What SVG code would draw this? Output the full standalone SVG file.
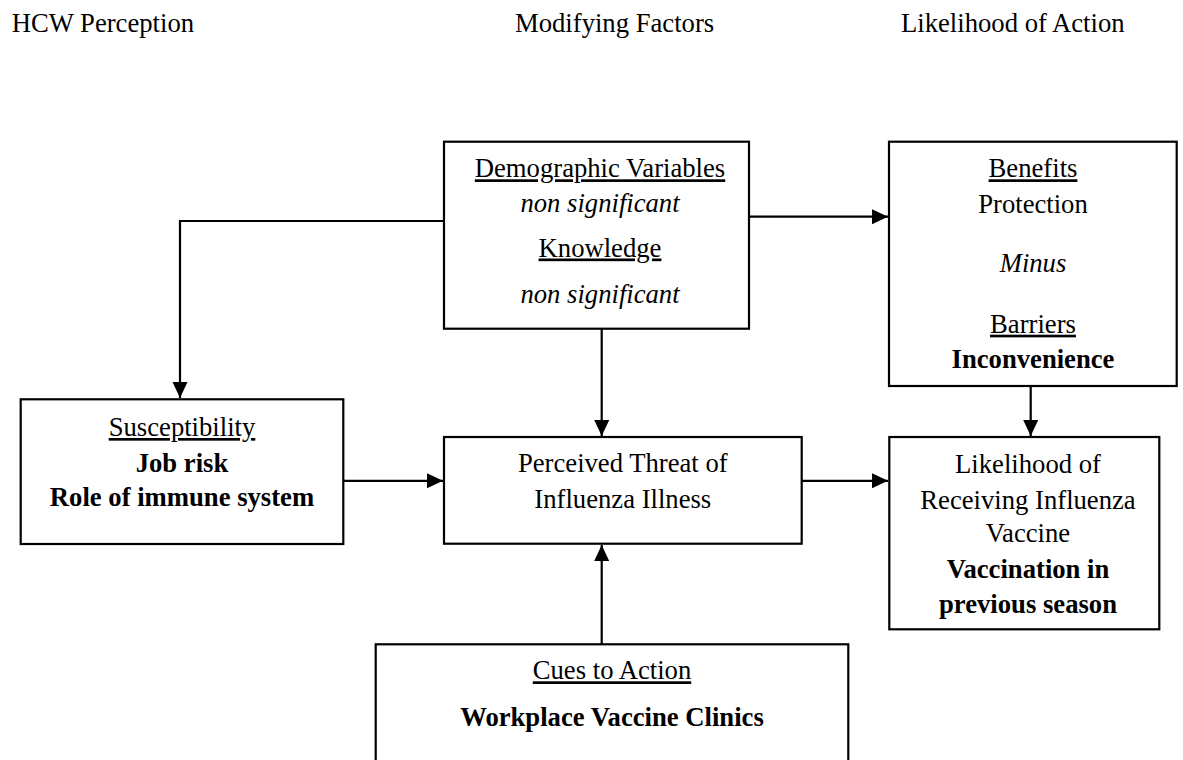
<svg xmlns="http://www.w3.org/2000/svg" width="1183" height="760" viewBox="0 0 1183 760">
<style>
  text { font-family: "Liberation Serif", "Times New Roman", serif; font-size: 26.67px; fill: #000; }
  .c { text-anchor: middle; }
  .u { text-decoration: underline; }
  .b { font-weight: bold; }
  .i { font-style: italic; }
  .box { fill: #fff; stroke: #000; stroke-width: 2.2; }
  .conn { fill: none; stroke: #000; stroke-width: 2.2; }
</style>
<defs>
  <marker id="arr" markerUnits="userSpaceOnUse" markerWidth="18" markerHeight="16" refX="16" refY="7.5" orient="auto">
    <path d="M0,0 L16,7.5 L0,15 Z" fill="#000"/>
  </marker>
</defs>
<rect width="1183" height="760" fill="#fff"/>

<g id="headers">
  <text x="11.7" y="32.3">HCW Perception</text>
  <text x="515" y="32.3">Modifying Factors</text>
  <text x="901" y="32.3">Likelihood of Action</text>
</g>

<g id="connectors">
  <path class="conn" d="M444,221 H180 V398" marker-end="url(#arr)"/>
  <path class="conn" d="M749,216.7 H888" marker-end="url(#arr)"/>
  <path class="conn" d="M601.7,328.7 V436" marker-end="url(#arr)"/>
  <path class="conn" d="M343.3,480.8 H443" marker-end="url(#arr)"/>
  <path class="conn" d="M801.7,480.8 H888" marker-end="url(#arr)"/>
  <path class="conn" d="M1030.7,386 V436" marker-end="url(#arr)"/>
  <path class="conn" d="M601.7,644.3 V545" marker-end="url(#arr)"/>
</g>

<g id="demographic">
  <rect class="box" x="444" y="141.7" width="305" height="187"/>
  <text class="c u" x="600" y="177.3">Demographic Variables</text>
  <text class="c i" x="600" y="211.7">non significant</text>
  <text class="c u" x="600" y="256.5">Knowledge</text>
  <text class="c i" x="600" y="302.5">non significant</text>
</g>

<g id="benefits">
  <rect class="box" x="889" y="141.7" width="287.7" height="244.3"/>
  <text class="c u" x="1033" y="177.3">Benefits</text>
  <text class="c" x="1033" y="212.7">Protection</text>
  <text class="c i" x="1033" y="271.7">Minus</text>
  <text class="c u" x="1033" y="332.7">Barriers</text>
  <text class="c b" x="1033" y="367.7">Inconvenience</text>
</g>

<g id="susceptibility">
  <rect class="box" x="20.7" y="399.3" width="322.6" height="144.7"/>
  <text class="c u" x="182" y="436">Susceptibility</text>
  <text class="c b" x="182" y="471.7">Job risk</text>
  <text class="c b" x="182" y="506">Role of immune system</text>
</g>

<g id="perceived-threat">
  <rect class="box" x="444" y="437" width="357.7" height="106.7"/>
  <text class="c" x="622.8" y="471.7">Perceived Threat of</text>
  <text class="c" x="622.8" y="508.3">Influenza Illness</text>
</g>

<g id="likelihood">
  <rect class="box" x="889.3" y="437" width="270" height="192.3"/>
  <text class="c" x="1028" y="473.3">Likelihood of</text>
  <text class="c" x="1028" y="509.3">Receiving Influenza</text>
  <text class="c" x="1028" y="542.3">Vaccine</text>
  <text class="c b" x="1028" y="578.3">Vaccination in</text>
  <text class="c b" x="1028" y="612.7">previous season</text>
</g>

<g id="cues">
  <rect class="box" x="375.7" y="644.3" width="472.6" height="130"/>
  <text class="c u" x="612" y="679.3">Cues to Action</text>
  <text class="c b" x="612" y="725.7">Workplace Vaccine Clinics</text>
</g>
</svg>
